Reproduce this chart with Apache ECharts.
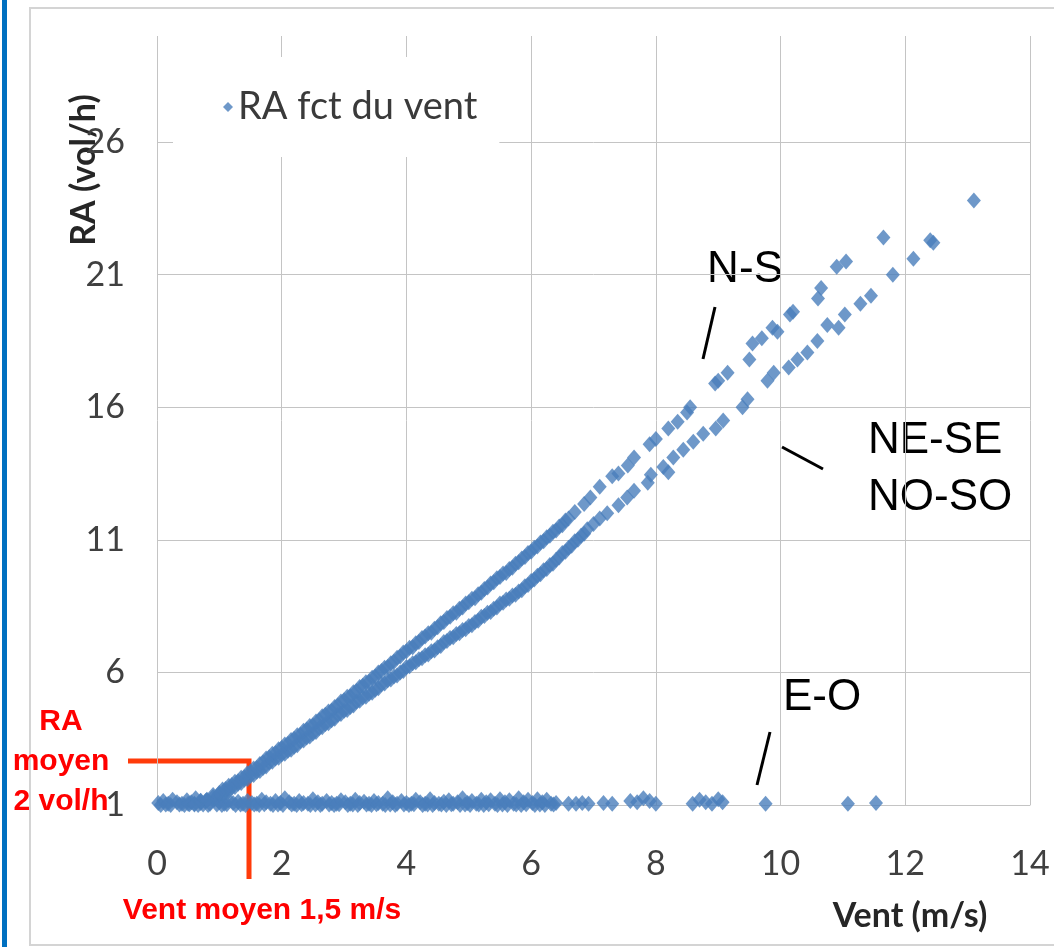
<!DOCTYPE html>
<html>
<head>
<meta charset="utf-8">
<title>RA fct du vent</title>
<script src="https://cdn.jsdelivr.net/npm/echarts@6/dist/echarts.min.js"></script>
<style>
  html, body { margin: 0; padding: 0; background: #fff; }
  #chart { width: 1054px; height: 947px; }
</style>
</head>
<body>
<div id="chart"></div>
<script>
// axes
var xTicks = [0, 2, 4, 6, 8, 10, 12, 14]
var yTicks = [1, 6, 11, 16, 21, 26]
var seriesName = 'RA fct du vent'

// orientation N-S (upper branch) : [vent m/s, RA vol/h]
var pointsNS = [
  [0.6, 1.02], [0.8, 1.2], [1.0, 1.45], [1.1, 1.6], [1.2, 1.75], [1.3, 1.9], [1.4, 2.05],
  [1.5, 2.25], [1.6, 2.4], [1.7, 2.6], [1.8, 2.8], [1.9, 2.95], [2.0, 3.15], [2.1, 3.3],
  [2.2, 3.5], [2.3, 3.65], [2.4, 3.85], [2.5, 4.0], [2.6, 4.2], [2.7, 4.4], [2.8, 4.55],
  [2.9, 4.75], [3.0, 4.95], [3.1, 5.1], [3.2, 5.3], [3.3, 5.5], [3.4, 5.65], [3.5, 5.85],
  [3.6, 6.05], [3.7, 6.2], [3.8, 6.4], [3.9, 6.6], [4.0, 6.8], [4.1, 6.95], [4.2, 7.15],
  [4.3, 7.35], [4.4, 7.5], [4.5, 7.7], [4.6, 7.9], [4.7, 8.1], [4.8, 8.25], [4.9, 8.45],
  [5.0, 8.65], [5.1, 8.8], [5.2, 9.0], [5.3, 9.2], [5.4, 9.4], [5.5, 9.6], [5.6, 9.75],
  [5.7, 9.95], [5.8, 10.15], [5.9, 10.35], [6.0, 10.55], [6.1, 10.75], [6.2, 10.95],
  [6.3, 11.15], [6.4, 11.35], [6.5, 11.55], [6.6, 11.8], [6.7, 12.05], [6.85, 12.35],
  [6.95, 12.6], [7.1, 13.0], [7.3, 13.4], [7.4, 13.5], [7.55, 13.8], [7.65, 14.1],
  [7.9, 14.6], [8.0, 14.8], [8.2, 15.2], [8.35, 15.45], [8.5, 15.8], [8.55, 16.0],
  [8.95, 16.9], [9.0, 17.0], [9.15, 17.3], [9.5, 17.8], [9.55, 18.4], [9.7, 18.6],
  [9.87, 19.0], [9.95, 18.85], [10.15, 19.5], [10.2, 19.6], [10.6, 20.1], [10.65, 20.5],
  [10.9, 21.3], [11.05, 21.5], [11.65, 22.4], [13.1, 23.8]
]
// N-S, second reading of the dense band
var pointsNS2 = [
  [0.7, 1.16], [0.9, 1.38], [1.05, 1.58], [1.15, 1.73], [1.25, 1.88], [1.35, 2.03], [1.45, 2.2],
  [1.55, 2.38], [1.65, 2.55], [1.75, 2.75], [1.85, 2.93], [1.95, 3.1], [2.05, 3.28], [2.15, 3.45],
  [2.25, 3.63], [2.35, 3.8], [2.45, 3.98], [2.55, 4.15], [2.65, 4.35], [2.75, 4.53], [2.85, 4.7],
  [2.95, 4.9], [3.05, 5.08], [3.15, 5.25], [3.25, 5.45], [3.35, 5.63], [3.45, 5.8], [3.55, 6.0],
  [3.65, 6.18], [3.75, 6.35], [3.85, 6.55], [3.95, 6.75], [4.05, 6.93], [4.15, 7.1], [4.25, 7.3],
  [4.35, 7.48], [4.45, 7.65], [4.55, 7.85], [4.65, 8.05], [4.75, 8.23], [4.85, 8.4], [4.95, 8.6],
  [5.05, 8.78], [5.15, 8.95], [5.25, 9.15], [5.35, 9.35], [5.45, 9.55], [5.55, 9.73], [5.65, 9.9],
  [5.75, 10.1], [5.85, 10.3], [5.95, 10.5], [6.05, 10.7], [6.15, 10.9], [6.25, 11.1], [6.35, 11.3],
  [6.45, 11.5], [6.55, 11.73]
]

// orientations NE-SE / NO-SO (lower branch)
var pointsDiag = [
  [0.5, 1.05], [0.7, 1.15], [0.9, 1.3], [1.0, 1.4], [1.1, 1.5], [1.2, 1.65], [1.3, 1.8],
  [1.4, 1.95], [1.5, 2.1], [1.6, 2.25], [1.7, 2.4], [1.8, 2.6], [1.9, 2.75], [2.0, 2.9],
  [2.1, 3.05], [2.2, 3.2], [2.3, 3.4], [2.4, 3.55], [2.5, 3.7], [2.6, 3.9], [2.7, 4.05],
  [2.8, 4.2], [2.9, 4.4], [3.0, 4.55], [3.1, 4.7], [3.2, 4.9], [3.3, 5.05], [3.4, 5.2],
  [3.5, 5.35], [3.6, 5.55], [3.7, 5.7], [3.8, 5.85], [3.9, 6.0], [4.0, 6.2], [4.1, 6.35],
  [4.2, 6.5], [4.3, 6.65], [4.4, 6.8], [4.5, 6.95], [4.6, 7.15], [4.7, 7.3], [4.8, 7.45],
  [4.9, 7.6], [5.0, 7.75], [5.1, 7.9], [5.2, 8.1], [5.3, 8.25], [5.4, 8.4], [5.5, 8.6],
  [5.6, 8.75], [5.7, 8.9], [5.8, 9.05], [5.9, 9.25], [6.0, 9.45], [6.1, 9.65], [6.2, 9.85],
  [6.3, 10.05], [6.4, 10.25], [6.5, 10.5], [6.6, 10.7], [6.7, 10.95], [6.8, 11.15],
  [6.9, 11.4], [7.0, 11.6], [7.1, 11.8], [7.22, 12.0], [7.4, 12.3], [7.54, 12.6],
  [7.65, 12.85], [7.87, 13.15], [7.92, 13.45], [8.12, 13.75], [8.2, 13.55], [8.28, 14.1],
  [8.44, 14.4], [8.6, 14.7], [8.76, 15.0], [8.96, 15.2], [9.08, 15.5], [9.39, 16.0],
  [9.47, 16.3], [9.79, 17.0], [9.89, 17.3], [10.13, 17.5], [10.27, 17.8], [10.43, 18.06],
  [10.59, 18.5], [10.75, 19.1], [10.93, 19.0], [11.03, 19.5], [11.28, 19.9], [11.45, 20.2],
  [11.8, 21.0], [12.13, 21.6], [12.4, 22.3], [12.45, 22.2]
]
// NE-SE / NO-SO, second reading of the dense band
var pointsDiag2 = [
  [0.6, 1.05], [0.8, 1.18], [0.95, 1.3], [1.05, 1.4], [1.15, 1.53], [1.25, 1.68], [1.35, 1.83],
  [1.45, 1.98], [1.55, 2.13], [1.65, 2.28], [1.75, 2.45], [1.85, 2.63], [1.95, 2.78], [2.05, 2.93],
  [2.15, 3.08], [2.25, 3.25], [2.35, 3.43], [2.45, 3.58], [2.55, 3.75], [2.65, 3.93], [2.75, 4.08],
  [2.85, 4.25], [2.95, 4.43], [3.05, 4.58], [3.15, 4.75], [3.25, 4.93], [3.35, 5.08], [3.45, 5.23],
  [3.55, 5.4], [3.65, 5.58], [3.75, 5.73], [3.85, 5.88], [3.95, 6.05], [4.05, 6.23], [4.15, 6.38],
  [4.25, 6.53], [4.35, 6.68], [4.45, 6.83], [4.55, 7.0], [4.65, 7.18], [4.75, 7.33], [4.85, 7.48],
  [4.95, 7.63], [5.05, 7.78], [5.15, 7.95], [5.25, 8.13], [5.35, 8.28], [5.45, 8.45], [5.55, 8.63],
  [5.65, 8.78], [5.75, 8.93], [5.85, 9.1], [5.95, 9.3], [6.05, 9.5], [6.15, 9.7], [6.25, 9.9],
  [6.35, 10.1], [6.45, 10.33], [6.55, 10.55], [6.65, 10.78], [6.75, 11.0], [6.85, 11.23]
]

// orientation E-O (flat)
var pointsEO = [
  [0.02, 1.08], [0.1, 1.15], [0.18, 1.05], [0.25, 1.2], [0.32, 1.1], [0.4, 1.05], [0.48, 1.18],
  [0.55, 1.1], [0.62, 1.25], [0.7, 1.08], [0.78, 1.15], [0.85, 1.05], [0.92, 1.2], [1.0, 1.1],
  [1.08, 1.05], [1.15, 1.18], [1.22, 1.08], [1.3, 1.12], [1.38, 1.05], [1.45, 1.15], [1.52, 1.08],
  [1.6, 1.05], [1.68, 1.2], [1.75, 1.1], [1.82, 1.05], [1.9, 1.15], [1.98, 1.08], [2.05, 1.25],
  [2.12, 1.1], [2.2, 1.05], [2.28, 1.15], [2.35, 1.08], [2.42, 1.05], [2.5, 1.22], [2.58, 1.1],
  [2.65, 1.05], [2.72, 1.15], [2.8, 1.08], [2.88, 1.05], [2.95, 1.18], [3.02, 1.1], [3.1, 1.05],
  [3.18, 1.2], [3.25, 1.08], [3.32, 1.12], [3.4, 1.05], [3.48, 1.15], [3.55, 1.08], [3.62, 1.05],
  [3.7, 1.25], [3.78, 1.1], [3.85, 1.05], [3.92, 1.15], [4.0, 1.08], [4.08, 1.05], [4.15, 1.2],
  [4.22, 1.1], [4.3, 1.05], [4.38, 1.22], [4.45, 1.08], [4.52, 1.05], [4.6, 1.12], [4.68, 1.18],
  [4.75, 1.05], [4.82, 1.1], [4.9, 1.25], [4.98, 1.08], [5.05, 1.15], [5.12, 1.05], [5.2, 1.2],
  [5.28, 1.1], [5.35, 1.18], [5.42, 1.05], [5.5, 1.22], [5.58, 1.1], [5.65, 1.18], [5.72, 1.05],
  [5.8, 1.25], [5.88, 1.1], [5.95, 1.2], [6.02, 1.08], [6.1, 1.22], [6.18, 1.1], [6.25, 1.2],
  [6.32, 1.05], [6.4, 1.08], [6.6, 1.05], [6.72, 1.05], [6.82, 1.08], [6.92, 1.05], [7.16, 1.08],
  [7.3, 1.05], [7.59, 1.15], [7.7, 1.1], [7.8, 1.25], [7.9, 1.15], [8.0, 1.05], [8.59, 1.05],
  [8.7, 1.2], [8.8, 1.1], [8.9, 1.05], [9.0, 1.22], [9.07, 1.1], [9.76, 1.05], [11.08, 1.05],
  [11.53, 1.08]
]
// E-O, lower edge of the dense row
var pointsEO2 = [
  [0.06, 1.0], [0.14, 1.02], [0.22, 1.0], [0.36, 1.02], [0.44, 1.0], [0.52, 1.03], [0.66, 1.0],
  [0.74, 1.02], [0.82, 1.0], [0.96, 1.02], [1.04, 1.0], [1.12, 1.03], [1.26, 1.0], [1.34, 1.02],
  [1.42, 1.0], [1.56, 1.02], [1.64, 1.0], [1.72, 1.03], [1.86, 1.0], [1.94, 1.02], [2.02, 1.0],
  [2.16, 1.02], [2.24, 1.0], [2.32, 1.03], [2.46, 1.0], [2.54, 1.02], [2.62, 1.0], [2.76, 1.02],
  [2.84, 1.0], [2.92, 1.03], [3.06, 1.0], [3.14, 1.02], [3.22, 1.0], [3.36, 1.02], [3.44, 1.0],
  [3.52, 1.03], [3.66, 1.0], [3.74, 1.02], [3.82, 1.0], [3.96, 1.02], [4.04, 1.0], [4.12, 1.03],
  [4.26, 1.0], [4.34, 1.02], [4.42, 1.0], [4.56, 1.02], [4.64, 1.0], [4.72, 1.03], [4.86, 1.0],
  [4.94, 1.02], [5.02, 1.0], [5.16, 1.02], [5.24, 1.0], [5.32, 1.03], [5.46, 1.0], [5.54, 1.02],
  [5.62, 1.0], [5.76, 1.02], [5.84, 1.0], [5.92, 1.03], [6.06, 1.0], [6.14, 1.02], [6.22, 1.0],
  [6.36, 1.02]
]

var chart = echarts.init(document.getElementById('chart'))

var tickFont = 'Lato, "Open Sans", sans-serif'
var gridColor = '#c4c4c4'
var redText = '#ff0000'
var redLine = '#ff3b0a'

chart.setOption({
  animation: false,
  backgroundColor: '#fff',
  grid: {
    left: 157,
    right: 24,
    top: 36,
    bottom: 142
  },
  legend: {
    data: [seriesName],
    left: 173,
    top: 57,
    icon: 'diamond',
    itemWidth: 10,
    itemHeight: 10,
    itemGap: 0,
    backgroundColor: '#fff',
    padding: [29, 22, 29, 50],
    textStyle: {
      fontSize: 38,
      lineHeight: 42,
      fontFamily: tickFont,
      color: '#3a3a3a'
    }
  },
  xAxis: {
    type: 'value',
    min: xTicks[0],
    max: xTicks[xTicks.length - 1],
    interval: 2,
    axisLine: { show: true, lineStyle: { color: gridColor, width: 1 } },
    axisTick: { show: false },
    splitLine: { show: true, lineStyle: { color: gridColor, width: 1 } },
    axisLabel: {
      margin: 42,
      fontSize: 34,
      fontFamily: tickFont,
      color: '#404040'
    }
  },
  yAxis: {
    type: 'value',
    min: yTicks[0],
    max: 30,
    interval: 5,
    axisLine: { show: false },
    axisTick: { show: false },
    splitLine: { show: true, showMaxLine: false, lineStyle: { color: gridColor, width: 1 } },
    axisLabel: {
      margin: 32,
      fontSize: 34,
      fontFamily: tickFont,
      color: '#404040',
      showMaxLabel: false
    }
  },
  series: [{
    name: seriesName,
    type: 'scatter',
    symbol: 'diamond',
    symbolSize: [14, 16],
    clip: false,
    large: false,
    itemStyle: { color: '#4a7ebb' },
    data: pointsEO2.concat(pointsEO, pointsDiag2, pointsDiag, pointsNS2, pointsNS)
  }],
  graphic: [
    // cadre
    { type: 'rect', shape: { x: 30, y: 8, width: 1040, height: 937 }, style: { fill: 'none', stroke: '#d4d4d4', lineWidth: 2 }, silent: true, z: 0 },
    { type: 'rect', shape: { x: 2, y: 0, width: 5, height: 947 }, style: { fill: '#0070c0' }, silent: true },
    // axis titles
    { type: 'text', x: 910, y: 916, style: { text: 'Vent (m/s)', font: 'bold 34px Lato, sans-serif', fill: '#262626', align: 'center', verticalAlign: 'middle' } },
    { type: 'text', x: 84, y: 170, rotation: Math.PI / 2, style: { text: 'RA (vol/h)', font: 'bold 34px Lato, sans-serif', fill: '#262626', align: 'center', verticalAlign: 'middle' } },
    // orientation labels
    { type: 'text', x: 745, y: 270, style: { text: 'N-S', font: '44px "Liberation Sans", Arial, sans-serif', fill: '#000', align: 'center', verticalAlign: 'middle' } },
    { type: 'line', shape: { x1: 715, y1: 307, x2: 703, y2: 359 }, style: { stroke: '#000', lineWidth: 3 } },
    { type: 'text', x: 868, y: 441, style: { text: 'NE-SE', font: '44px "Liberation Sans", Arial, sans-serif', fill: '#000', align: 'left', verticalAlign: 'middle' } },
    { type: 'text', x: 868, y: 498, style: { text: 'NO-SO', font: '44px "Liberation Sans", Arial, sans-serif', fill: '#000', align: 'left', verticalAlign: 'middle' } },
    { type: 'line', shape: { x1: 782, y1: 447, x2: 823, y2: 469 }, style: { stroke: '#000', lineWidth: 3 } },
    { type: 'text', x: 822, y: 698, style: { text: 'E-O', font: '44px "Liberation Sans", Arial, sans-serif', fill: '#000', align: 'center', verticalAlign: 'middle' } },
    { type: 'line', shape: { x1: 770, y1: 732, x2: 757, y2: 785 }, style: { stroke: '#000', lineWidth: 3 } },
    // moyennes
    { type: 'polyline', shape: { points: [[128, 761], [249, 761], [249, 879]] }, style: { stroke: redLine, lineWidth: 5, fill: 'none' } },
    { type: 'text', x: 61, y: 762, style: { text: 'RA\nmoyen\n2 vol/h', font: 'bold 30px "Liberation Sans", Arial, sans-serif', lineHeight: 40, fill: redText, align: 'center', verticalAlign: 'middle' } },
    { type: 'text', x: 262, y: 911, style: { text: 'Vent moyen 1,5 m/s', font: 'bold 30px "Liberation Sans", Arial, sans-serif', fill: redText, align: 'center', verticalAlign: 'middle' } }
  ]
})
</script>
</body>
</html>
